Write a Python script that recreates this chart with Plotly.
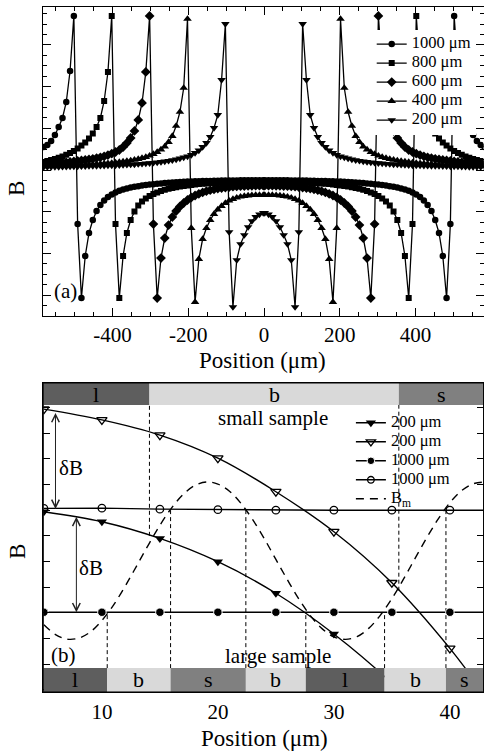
import plotly.graph_objects as go

# ---------------- panel (a): field profiles across strips of different width ----------------
# positions (um) of the sampled points measured from the strip centre; the profiles are mirror-symmetric
X_HALF = [2, 12, 22, 32, 42, 52, 62, 72, 82, 92, 102, 112, 122, 132, 142, 152, 162, 172, 182, 192,
          202, 212, 222, 232, 242, 252, 262, 272, 282, 292, 302, 312, 322, 332, 342, 352, 362, 372, 382, 392,
          402, 412, 422, 432, 442, 452, 462, 472, 482, 492, 502, 512, 522, 532, 542, 552, 562, 572, 582]

# B (arbitrary units) inside the strip (centre -> edge) and outside (edge -> far)
B1000_IN = [135.8, 135.8, 135.8, 135.8, 135.8, 135.7, 135.7, 135.6, 135.6, 135.5,
            135.5, 135.4, 135.3, 135.2, 135.1, 135.0, 134.9, 134.8, 134.7, 134.6,
            134.4, 134.2, 134.0, 133.8, 133.5, 133.2, 132.9, 132.6, 132.2, 131.8,
            131.4, 130.9, 130.4, 129.8, 129.2, 128.4, 127.5, 126.5, 125.2, 123.6,
            121.6, 119.0, 115.5, 111, 105, 96, 83, 60, 18, 92]
B1000_OUT = [300, 245, 214, 198, 189, 181, 175, 171, 169]

B800_IN = [134.2, 134.2, 134.2, 134.2, 134.2, 134.1, 134.1, 134.0, 133.9, 133.8,
           133.7, 133.5, 133.3, 133.1, 132.9, 132.6, 132.3, 131.9, 131.5, 131.1,
           130.6, 130.1, 129.5, 128.8, 128.0, 127.2, 126.2, 125.0, 123.5, 122.0,
           120.0, 117.5, 114.5, 110.5, 104.5, 96, 83, 60, 18, 92]
B800_OUT = [300, 244, 215, 198, 189, 182.5, 177.5, 173.5, 170.5, 167.5,
            165, 163, 161.2, 159.6, 158.2, 157, 155.9, 154.9, 154]

B600_IN = [130.3, 130.3, 130.3, 130.2, 130.1, 130.0, 129.8, 129.6, 129.3, 129.0,
           128.5, 128.0, 127.4, 126.7, 125.8, 124.8, 123.6, 122.2, 120.5, 118.5,
           116, 113, 109.5, 105, 99, 91, 78, 58, 18, 92]
B600_OUT = [300, 244, 213, 196, 185, 178, 173, 169, 166, 164,
            162.3, 160.9, 159.7, 158.7, 157.9, 157.2, 156.6, 156, 155.5, 155,
            154.5, 154.1, 153.7, 153.3, 153, 152.7, 152.4, 152.1, 151.9]

B400_IN = [121, 121, 121, 120.8, 120.5, 120, 119.3, 118.3, 117, 115.3,
           113, 110, 106.5, 102, 96, 88, 77, 57, 14, 88]
B400_OUT = [297, 228, 204, 190, 180, 174, 169.5, 166.5, 164, 162,
            160.3, 159, 157.9, 157, 156.2, 155.5, 154.9, 154.4, 153.9, 153.5,
            153.1, 152.8, 152.5, 152.2, 151.9, 151.7, 151.5, 151.3, 151.1, 150.9,
            150.7, 150.6, 150.5, 150.4, 150.3, 150.2, 150.1, 150.0, 149.9]

B200_IN = [103, 101.5, 99, 95, 89, 81, 72, 56, 9, 84]
B200_OUT = [292, 236, 201, 188, 179, 173, 169, 165.5, 163, 161,
            159.5, 158.5, 157.5, 156.5, 155.8, 155.2, 154.6, 154.1, 153.6, 153.2,
            152.8, 152.5, 152.2, 151.9, 151.6, 151.4, 151.2, 151, 150.8, 150.6,
            150.5, 150.4, 150.3, 150.2, 150.1, 150, 149.9, 149.8, 149.7, 149.6,
            149.5, 149.4, 149.3, 149.2, 149.1, 149, 149, 148.9, 148.8]

WIDTH_LABELS_A = ["1000 μm", "800 μm", "600 μm", "400 μm", "200 μm"]
TICKS_A = [-400, -200, 0, 200, 400]
TICK_LABELS_A = ["-400", "-200", "0", "200", "400"]

# ---------------- panel (b) ----------------
POS_B = [5, 10, 15, 20, 25, 30, 35, 40]
POS_B_EXT = [5, 10, 15, 20, 25, 30, 35, 40, 43]
TRI_FILLED = [5.94, 5.55, 4.90, 3.99, 2.76, 1.17, -0.74, -2.96]        # 200 um, large sample
TRI_OPEN = [9.94, 9.52, 8.93, 8.03, 6.72, 5.16, 3.17, 0.61, -1.2]      # 200 um, small sample
CIRC_FILLED = [2.02, 2.02, 2.02, 2.02, 2.02, 2.02, 2.02, 2.02, 2.02]   # 1000 um
CIRC_OPEN = [6.07, 6.08, 6.04, 6.02, 6.0, 6.0, 6.0, 6.0, 6.0]          # 1000 um
BM_X = list(range(5, 44))
BM = [1.53, 1.15, 0.97, 1.01, 1.25, 1.70, 2.30, 3.03, 3.83, 4.64,
      5.41, 6.08, 6.61, 6.96, 7.10, 7.02, 6.74, 6.26, 5.63, 4.89,
      4.08, 3.28, 2.52, 1.87, 1.37, 1.06, 0.96, 1.07, 1.39, 1.90,
      2.55, 3.31, 4.12, 4.92, 5.66, 6.29, 6.76, 7.03, 7.10]
TICKS_B = [10, 20, 30, 40]
TICK_LABELS_B = ["10", "20", "30", "40"]

TOP_BAR_EDGES = [4.95, 14.1, 35.6, 42.9]
TOP_BAR_LABELS = ["l", "b", "s"]
BOTTOM_BAR_EDGES = [4.95, 10.46, 15.92, 22.41, 27.58, 34.37, 39.66, 42.9]
BOTTOM_BAR_LABELS = ["l", "b", "s", "b", "l", "b", "s"]
BAR_COLORS = {"l": "#5e5e5e", "b": "#d9d9d9", "s": "#808080"}
# dashed guides: (position, lower end) from the top bar, (position, upper end) to the bottom bar
TOP_GUIDES = [(14.1, 5.0), (35.6, 2.86)]
BOTTOM_GUIDES = [(10.46, 2.02), (15.92, 6.05), (22.41, 6.05), (27.58, 2.02), (34.37, 2.02), (39.66, 6.05)]

FONT = "Liberation Serif"
LEG_SPAN = '<span style="font-size:16.5px">{}</span>'

fig = go.Figure()

profiles = [(B1000_IN, B1000_OUT, "circle", 6.5), (B800_IN, B800_OUT, "square", 6),
            (B600_IN, B600_OUT, "diamond", 7.5), (B400_IN, B400_OUT, "triangle-up", 7.5),
            (B200_IN, B200_OUT, "triangle-down", 7.5)]
x_full = [-v for v in reversed(X_HALF)] + X_HALF
for (bin_, bout, sym, msz), lab in zip(profiles, WIDTH_LABELS_A):
    half = bin_ + bout
    fig.add_trace(go.Scatter(
        x=x_full, y=list(reversed(half)) + half, mode="lines+markers",
        name=LEG_SPAN.format(lab), legend="legend",
        line=dict(color="black", width=1.3),
        marker=dict(symbol=sym, size=msz, color="black"),
        xaxis="x", yaxis="y"))

big = [9] * 8 + [0]
fig.add_trace(go.Scatter(x=POS_B, y=TRI_FILLED, mode="lines+markers", name=LEG_SPAN.format("200 μm"),
                         legend="legend2", line=dict(color="black", width=1.4, shape="spline"),
                         marker=dict(symbol="triangle-down", size=9, color="black"), xaxis="x2", yaxis="y2"))
fig.add_trace(go.Scatter(x=POS_B_EXT, y=TRI_OPEN, mode="lines+markers", name=LEG_SPAN.format("200 μm"),
                         legend="legend2", line=dict(color="black", width=1.4, shape="spline"),
                         marker=dict(symbol="triangle-down-open", size=big, color="black", opacity=1,
                                     line=dict(width=1.3)),
                         xaxis="x2", yaxis="y2"))
fig.add_trace(go.Scatter(x=POS_B_EXT, y=CIRC_FILLED, mode="lines+markers", name=LEG_SPAN.format("1000 μm"),
                         legend="legend2", line=dict(color="black", width=1.4),
                         marker=dict(symbol="circle", size=[8.5] * 8 + [0], color="black", opacity=1),
                         xaxis="x2", yaxis="y2"))
fig.add_trace(go.Scatter(x=POS_B_EXT, y=CIRC_OPEN, mode="lines+markers", name=LEG_SPAN.format("1000 μm"),
                         legend="legend2", line=dict(color="black", width=1.4),
                         marker=dict(symbol="circle-open", size=[7.5] * 8 + [0], color="black", opacity=1,
                                     line=dict(width=1.3)),
                         xaxis="x2", yaxis="y2"))
fig.add_trace(go.Scatter(x=BM_X, y=BM, mode="lines", name=LEG_SPAN.format("B<sub>m</sub>"),
                         legend="legend2", line=dict(color="black", width=1.4, dash="8px,6px", shape="spline"),
                         xaxis="x2", yaxis="y2"))

shapes = []
for xg, ylow in TOP_GUIDES:
    shapes.append(dict(type="line", xref="x2", yref="y2", x0=xg, x1=xg, y0=ylow, y1=10.11,
                       line=dict(color="black", width=1, dash="4px,3px"), layer="below"))
for xg, yhigh in BOTTOM_GUIDES:
    shapes.append(dict(type="line", xref="x2", yref="y2", x0=xg, x1=xg, y0=-0.16, y1=yhigh,
                       line=dict(color="black", width=1, dash="4px,3px"), layer="below"))
annotations = []
for edges, labels, y0, y1 in [(TOP_BAR_EDGES, TOP_BAR_LABELS, 0.9288, 1.0),
                              (BOTTOM_BAR_EDGES, BOTTOM_BAR_LABELS, 0.0, 0.0777)]:
    for i, lab in enumerate(labels):
        shapes.append(dict(type="rect", xref="x2", yref="y2 domain", x0=edges[i], x1=edges[i + 1],
                           y0=y0, y1=y1, fillcolor=BAR_COLORS[lab], line=dict(width=0), layer="above"))
        annotations.append(dict(x=(edges[i] + edges[i + 1]) / 2, y=(y0 + y1) / 2, xref="x2", yref="y2 domain",
                                text=lab, showarrow=False, font=dict(size=22, family=FONT, color="black"),
                                xanchor="center", yanchor="middle"))
shapes.append(dict(type="rect", xref="x2 domain", yref="y2 domain", x0=0, x1=1, y0=0, y1=1,
                   line=dict(color="black", width=1), fillcolor="rgba(0,0,0,0)", layer="above"))

def txt(x, y, s, size=21, xref="paper", yref="paper", angle=0):
    return dict(x=x, y=y, xref=xref, yref=yref, text=s, showarrow=False, textangle=angle,
                font=dict(size=size, family=FONT, color="black"), xanchor="center", yanchor="middle")

annotations += [
    txt(-525, 25.5, "(a)", 21, "x", "y"),
    txt(0.0351, 0.7497, "B", 23, angle=-90),
    txt(0.5424, 0.5200, "Position (μm)", 23),
    txt(0.0351, 0.2663, "B", 23, angle=-90),
    txt(0.5475, 0.017, "Position (μm)", 23),
    txt(24.74, 9.6, "small sample", 21, "x2", "y2"),
    txt(25.17, 0.31, "large sample", 21, "x2", "y2"),
    txt(6.68, 0.35, "(b)", 21, "x2", "y2"),
    txt(7.37, 7.65, "δB", 21, "x2", "y2"),
    txt(9.05, 3.75, "δB", 21, "x2", "y2"),
]
for xa, ylo, yhi in [(6.0, 6.05, 9.85), (7.8, 2.02, 5.8)]:
    annotations.append(dict(x=xa, y=ylo, ax=xa, ay=yhi, xref="x2", yref="y2", axref="x2", ayref="y2",
                            text="", showarrow=True, arrowside="end+start", arrowhead=5, startarrowhead=5,
                            arrowsize=1.5, startarrowsize=1.5, arrowwidth=1, arrowcolor="#222",
                            standoff=0, startstandoff=0))

axis_common = dict(showline=True, linecolor="black", linewidth=1, mirror="ticks", showgrid=False,
                   zeroline=False, tickcolor="black", tickwidth=1)
fig.update_layout(
    width=484, height=751, margin=dict(l=0, r=0, t=0, b=0),
    paper_bgcolor="white", plot_bgcolor="white",
    font=dict(family=FONT, color="black"),
    xaxis=dict(domain=[0.0888, 0.999], range=[-583.5, 579.5], anchor="y", tickmode="array",
               tickvals=TICKS_A, ticktext=TICK_LABELS_A, ticks="inside", ticklen=8,
               minor=dict(tick0=0, dtick=50, ticks="inside", ticklen=4, tickcolor="black"),
               tickfont=dict(size=21, family=FONT), ticklabelstandoff=0, **axis_common),
    yaxis=dict(domain=[0.5792, 0.9907], range=[0, 309], anchor="x", tickmode="linear", tick0=21,
               dtick=125 / 3, ticks="inside", ticklen=8, showticklabels=False,
               minor=dict(tick0=21, dtick=125 / 12, ticks="inside", ticklen=4, tickcolor="black"),
               **axis_common),
    xaxis2=dict(domain=[0.0895, 0.999], range=[4.95, 42.9], anchor="y2", tickmode="array",
                tickvals=TICKS_B, ticktext=TICK_LABELS_B, ticks="", tickfont=dict(size=21, family=FONT),
                ticklabelstandoff=1, **axis_common),
    yaxis2=dict(domain=[0.0786, 0.49], range=[-1.09, 10.96], anchor="x2", tickmode="linear", tick0=0,
                dtick=1, ticks="inside", ticklen=7, showticklabels=False, **axis_common),
    legend=dict(x=0.768, y=0.9606, xanchor="left", yanchor="top", bgcolor="white", borderwidth=0,
                font=dict(size=11, family=FONT, color="black"), tracegroupgap=0),
    legend2=dict(x=0.725, y=0.4563, xanchor="left", yanchor="top", bgcolor="rgba(0,0,0,0)", borderwidth=0,
                 font=dict(size=11, family=FONT, color="black"), tracegroupgap=0),
    shapes=shapes, annotations=annotations,
)

fig.write_html("out.html", config={"displayModeBar": False},
               post_script="document.body.style.margin='0px';")
